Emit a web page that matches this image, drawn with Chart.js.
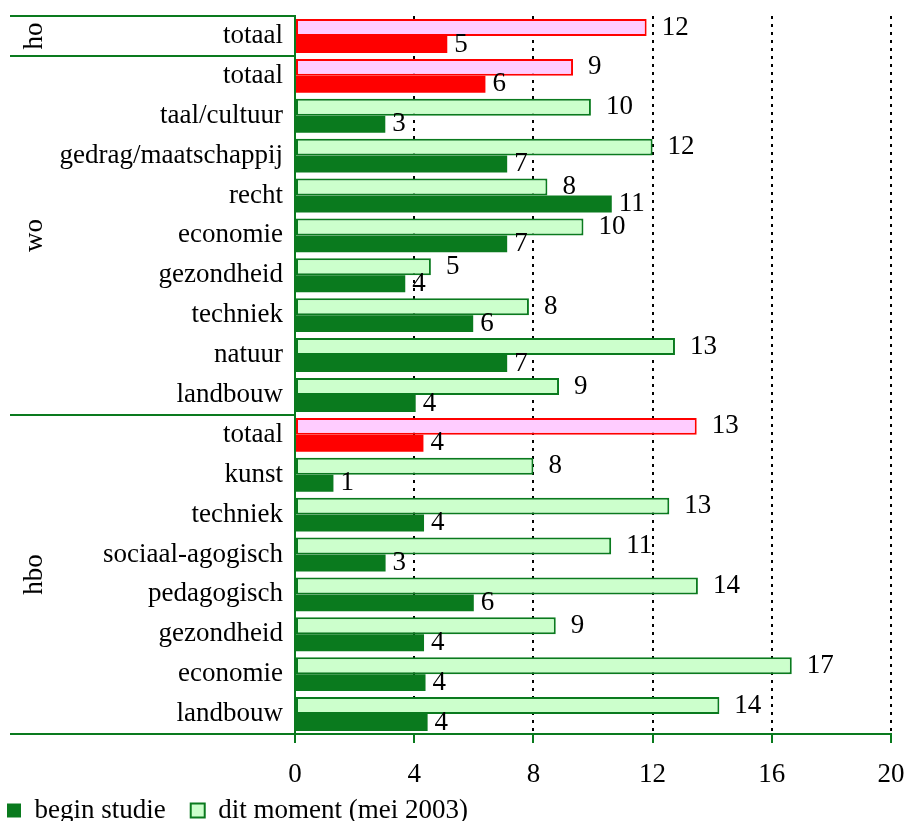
<!DOCTYPE html>
<html>
<head>
<meta charset="utf-8">
<script src="https://cdn.jsdelivr.net/npm/chart.js@4/dist/chart.umd.min.js"></script>
<style>
  html, body { margin: 0; padding: 0; background: #fff; }
  #wrap { width: 904px; height: 821px; }
</style>
</head>
<body>
<div id="wrap"><canvas id="c"></canvas></div>
<script>
// horizontal grouped bars, Excel-style: "dit moment" on top, "begin studie" below
const FONT = "'Liberation Serif', 'Times New Roman', serif";
const SIZE = 27;
const GREEN = '#0A7A1E', LIGHT = '#CCFFCC', RED = '#FF0000', PINK = '#FFCCFF';

const categories = [
  'totaal',
  'totaal', 'taal/cultuur', 'gedrag/maatschappij', 'recht', 'economie',
  'gezondheid', 'techniek', 'natuur', 'landbouw',
  'totaal', 'kunst', 'techniek', 'sociaal-agogisch', 'pedagogisch',
  'gezondheid', 'economie', 'landbouw',
];
const groupNames = ['ho', 'wo', 'hbo'];
const groupStart = [0, 1, 10];          // first row of each group
const totaalRows = [0, 1, 10];

const ditMoment = [
  11.8,
  9.33, 9.93, 12.0, 8.47, 9.68, 4.56, 7.85, 12.75, 8.86,
  13.48, 8.0, 12.56, 10.61, 13.52, 8.75, 16.67, 14.24,
];
const beginStudie = [
  5.11,
  6.39, 3.03, 7.12, 10.63, 7.12, 3.70, 5.98, 7.12, 4.05,
  4.31, 1.29, 4.33, 3.04, 6.0, 4.33, 4.38, 4.45,
];
const xTicks = [0, 4, 8, 12, 16, 20];

const isTot = (i) => totaalRows.includes(i);

// value labels right of each bar
const valueLabels = {
  id: 'valueLabels',
  afterDatasetsDraw(chart) {
    const ctx = chart.ctx;
    ctx.save();
    ctx.font = `${SIZE}px ${FONT}`;
    ctx.fillStyle = '#000';
    ctx.textAlign = 'left';
    ctx.textBaseline = 'middle';
    chart.data.datasets.forEach((ds, di) => {
      const off = di === 0 ? 15 : 7;
      chart.getDatasetMeta(di).data.forEach((bar, i) => {
        ctx.fillText(String(Math.round(ds.data[i])), bar.x + off, bar.y);
      });
    });
    ctx.restore();
  },
};

// group separators and rotated group names on the left
const groupFrame = {
  id: 'groupFrame',
  afterDraw(chart) {
    const ctx = chart.ctx, y = chart.scales.y, area = chart.chartArea;
    const row = y.getPixelForValue(1) - y.getPixelForValue(0);
    ctx.save();
    ctx.strokeStyle = GREEN;
    ctx.lineWidth = 2;
    const edges = groupStart.map((s) => y.getPixelForValue(s) - row / 2);
    edges.push(area.bottom);
    ctx.beginPath();
    edges.forEach((py) => { ctx.moveTo(10, py); ctx.lineTo(area.left, py); });
    ctx.stroke();

    ctx.font = `${SIZE}px ${FONT}`;
    ctx.fillStyle = '#000';
    ctx.textAlign = 'center';
    ctx.textBaseline = 'alphabetic';
    groupNames.forEach((name, g) => {
      const mid = (edges[g] + edges[g + 1]) / 2;
      ctx.save();
      ctx.translate(42, mid);
      ctx.rotate(-Math.PI / 2);
      ctx.fillText(name, 0, 0);
      ctx.restore();
    });
    ctx.restore();
  },
};

new Chart(document.getElementById('c'), {
  type: 'bar',
  data: {
    labels: categories,
    datasets: [
      {
        label: 'dit moment (mei 2003)',
        data: ditMoment,
        backgroundColor: ditMoment.map((_, i) => (isTot(i) ? PINK : LIGHT)),
        borderColor: ditMoment.map((_, i) => (isTot(i) ? RED : GREEN)),
        borderWidth: 2,
        borderSkipped: false,
      },
      {
        label: 'begin studie',
        data: beginStudie,
        backgroundColor: beginStudie.map((_, i) => (isTot(i) ? RED : GREEN)),
        borderWidth: 0,
      },
    ],
  },
  options: {
    indexAxis: 'y',
    responsive: true,
    maintainAspectRatio: false,
    animation: false,
    events: [],
    categoryPercentage: 0.85,
    barPercentage: 1.0,
    layout: { padding: { left: 0, right: 13, top: 16, bottom: -13 } },
    plugins: {
      tooltip: { enabled: false },
      legend: {
        position: 'bottom',
        align: 'start',
        labels: {
          font: { family: FONT, size: SIZE },
          color: '#000',
          boxWidth: 14,
          boxHeight: 14,
          padding: 7,
          generateLabels: () => [
            { text: 'begin studie\u2002\u2006', fillStyle: GREEN, strokeStyle: GREEN, lineWidth: 0, datasetIndex: 1, hidden: false },
            { text: 'dit moment (mei 2003)', fillStyle: LIGHT, strokeStyle: GREEN, lineWidth: 2, datasetIndex: 0, hidden: false },
          ],
        },
      },
    },
    scales: {
      x: {
        type: 'linear',
        min: 0,
        max: 20,
        afterBuildTicks: (s) => { s.ticks = xTicks.map((v) => ({ value: v })); },
        afterFit: (s) => { s.height = 56; s.paddingLeft = 0; s.paddingRight = 0; },
        ticks: { font: { family: FONT, size: SIZE }, color: '#000', padding: 16, maxRotation: 0 },
        grid: {
          color: (c) => (c.tick && c.tick.value === 0 ? 'rgba(0,0,0,0)' : '#000'),
          lineWidth: 2,
          tickColor: GREEN,
          tickWidth: 2,
          tickLength: 9,
        },
        border: { display: true, color: GREEN, width: 2, dash: [3, 5] },
      },
      y: {
        afterFit: (s) => { s.width = 295; s.paddingTop = 0; s.paddingBottom = 0; },
        ticks: { font: { family: FONT, size: SIZE }, color: '#000', padding: 12, autoSkip: false },
        grid: { display: false, drawTicks: false },
        border: { display: true, color: GREEN, width: 2 },
      },
    },
  },
  plugins: [valueLabels, groupFrame],
});
</script>
</body>
</html>
